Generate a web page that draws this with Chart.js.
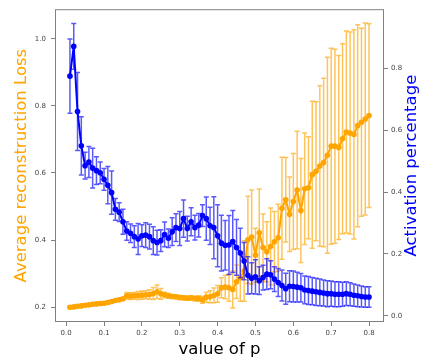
<!DOCTYPE html>
<html>
<head>
<meta charset="utf-8">
<script src="https://cdn.jsdelivr.net/npm/chart.js@4"></script>
<style>
  body { margin: 0; background: #fff; }
  canvas { display: block; }
</style>
</head>
<body>
<canvas id="grafico" width="422" height="358"></canvas>
<script>
// valores de p (eixo x)
const pValues = [
  0.01, 0.02, 0.03, 0.04, 0.05, 0.06, 0.07, 0.08, 0.09, 0.10,
  0.11, 0.12, 0.13, 0.14, 0.15, 0.16, 0.17, 0.18, 0.19, 0.20,
  0.21, 0.22, 0.23, 0.24, 0.25, 0.26, 0.27, 0.28, 0.29, 0.30,
  0.31, 0.32, 0.33, 0.34, 0.35, 0.36, 0.37, 0.38, 0.39, 0.40,
  0.41, 0.42, 0.43, 0.44, 0.45, 0.46, 0.47, 0.48, 0.49, 0.50,
  0.51, 0.52, 0.53, 0.54, 0.55, 0.56, 0.57, 0.58, 0.59, 0.60,
  0.61, 0.62, 0.63, 0.64, 0.65, 0.66, 0.67, 0.68, 0.69, 0.70,
  0.71, 0.72, 0.73, 0.74, 0.75, 0.76, 0.77, 0.78, 0.79, 0.80
];

// perda média de reconstrução (eixo esquerdo, laranja)
const lossMean = [
  0.200, 0.201, 0.203, 0.204, 0.206, 0.207, 0.209, 0.210, 0.211, 0.212,
  0.214, 0.217, 0.220, 0.222, 0.225, 0.234, 0.233, 0.234, 0.235, 0.236,
  0.237, 0.238, 0.241, 0.246, 0.240, 0.237, 0.234, 0.232, 0.231, 0.229,
  0.228, 0.227, 0.228, 0.226, 0.226, 0.222, 0.230, 0.231, 0.235, 0.240,
  0.258, 0.260, 0.258, 0.253, 0.276, 0.288, 0.308, 0.401, 0.409, 0.355,
  0.422, 0.378, 0.365, 0.381, 0.395, 0.407, 0.495, 0.520, 0.477, 0.515,
  0.549, 0.488, 0.553, 0.556, 0.595, 0.605, 0.621, 0.631, 0.653, 0.680,
  0.680, 0.676, 0.702, 0.722, 0.719, 0.715, 0.741, 0.751, 0.761, 0.771
];
const lossErr = [
  0.004, 0.004, 0.004, 0.004, 0.004, 0.004, 0.004, 0.004, 0.004, 0.004,
  0.004, 0.004, 0.004, 0.004, 0.004, 0.010, 0.010, 0.010, 0.012, 0.012,
  0.012, 0.014, 0.018, 0.020, 0.016, 0.008, 0.007, 0.006, 0.006, 0.006,
  0.006, 0.006, 0.006, 0.007, 0.008, 0.010, 0.015, 0.018, 0.022, 0.025,
  0.030, 0.035, 0.040, 0.055, 0.050, 0.070, 0.090, 0.130, 0.140, 0.080,
  0.130, 0.100, 0.090, 0.115, 0.090, 0.100, 0.152, 0.126, 0.111, 0.143,
  0.175, 0.155, 0.166, 0.152, 0.219, 0.207, 0.239, 0.251, 0.292, 0.292,
  0.289, 0.274, 0.283, 0.301, 0.301, 0.312, 0.301, 0.280, 0.286, 0.274
];

// percentual de ativação (eixo direito, azul)
const actMean = [
  0.774, 0.870, 0.660, 0.549, 0.485, 0.497, 0.477, 0.469, 0.462, 0.441,
  0.422, 0.398, 0.344, 0.335, 0.304, 0.274, 0.267, 0.256, 0.248, 0.259,
  0.261, 0.256, 0.243, 0.237, 0.243, 0.263, 0.251, 0.272, 0.285, 0.282,
  0.314, 0.282, 0.304, 0.285, 0.293, 0.324, 0.314, 0.291, 0.285, 0.259,
  0.235, 0.228, 0.229, 0.240, 0.221, 0.203, 0.177, 0.131, 0.122, 0.126,
  0.114, 0.124, 0.135, 0.133, 0.119, 0.108, 0.098, 0.088, 0.096, 0.095,
  0.093, 0.091, 0.084, 0.082, 0.080, 0.078, 0.076, 0.074, 0.072, 0.072,
  0.070, 0.070, 0.070, 0.072, 0.070, 0.067, 0.065, 0.063, 0.061, 0.061
];
const actErr = [
  0.120, 0.074, 0.126, 0.094, 0.043, 0.050, 0.064, 0.045, 0.035, 0.035,
  0.060, 0.070, 0.035, 0.030, 0.040, 0.030, 0.030, 0.035, 0.050, 0.035,
  0.040, 0.040, 0.045, 0.040, 0.035, 0.040, 0.030, 0.045, 0.045, 0.055,
  0.060, 0.040, 0.045, 0.040, 0.038, 0.035, 0.070, 0.060, 0.100, 0.100,
  0.090, 0.080, 0.095, 0.100, 0.090, 0.080, 0.060, 0.060, 0.050, 0.055,
  0.045, 0.040, 0.050, 0.045, 0.040, 0.045, 0.050, 0.050, 0.050, 0.050,
  0.048, 0.046, 0.045, 0.045, 0.044, 0.044, 0.043, 0.042, 0.042, 0.041,
  0.040, 0.040, 0.039, 0.038, 0.037, 0.036, 0.035, 0.034, 0.033, 0.033
];

// ticks dos eixos
const xTicks = [0.0, 0.1, 0.2, 0.3, 0.4, 0.5, 0.6, 0.7, 0.8];
const lossTicks = [0.2, 0.4, 0.6, 0.8, 1.0];
const actTicks = [0.0, 0.2, 0.4, 0.6, 0.8];

const ORANGE = '#ffa500';
const BLUE = '#0000ff';
const AXIS_COLOR = '#808080';
const TICK_FONT = { family: 'DejaVu Sans', size: 7 };
const TITLE_FONT = '16.5px "DejaVu Sans"';

// desenha as barras de erro antes da linha de cada dataset
const errorBarPlugin = {
  id: 'errorBars',
  beforeDatasetDraw(chart, args) {
    const ds = chart.data.datasets[args.index];
    if (!ds.errors) return;
    const ctx = chart.ctx;
    const xs = chart.scales.x;
    const ys = chart.scales[ds.yAxisID];
    ctx.save();
    ctx.strokeStyle = ds.errorColor;
    ctx.lineWidth = 1.5;
    ds.data.forEach((pt, i) => {
      const x = xs.getPixelForValue(pt.x);
      const yTop = ys.getPixelForValue(pt.y + ds.errors[i]);
      const yBot = ys.getPixelForValue(pt.y - ds.errors[i]);
      ctx.beginPath();
      ctx.moveTo(x, yTop); ctx.lineTo(x, yBot);
      ctx.moveTo(x - 2.5, yTop); ctx.lineTo(x + 2.5, yTop);
      ctx.moveTo(x - 2.5, yBot); ctx.lineTo(x + 2.5, yBot);
      ctx.stroke();
    });
    ctx.restore();
  }
};

// moldura completa + títulos dos eixos
const framePlugin = {
  id: 'frame',
  afterDraw(chart) {
    const { ctx, chartArea: a } = chart;
    ctx.save();
    ctx.strokeStyle = AXIS_COLOR;
    ctx.lineWidth = 1;
    ctx.strokeRect(a.left + 0.5, a.top + 0.5, a.right - a.left - 1, a.bottom - a.top - 1);

    ctx.font = TITLE_FONT;
    ctx.textAlign = 'center';
    ctx.textBaseline = 'alphabetic';
    const midY = (a.top + a.bottom) / 2;

    ctx.fillStyle = '#000';
    ctx.fillText('value of p', (a.left + a.right) / 2, 354);

    ctx.save();
    ctx.translate(26, midY);
    ctx.rotate(-Math.PI / 2);
    ctx.fillStyle = ORANGE;
    ctx.fillText('Average reconstruction Loss', 0, 0);
    ctx.restore();

    ctx.save();
    ctx.translate(416, midY);
    ctx.rotate(-Math.PI / 2);
    ctx.fillStyle = BLUE;
    ctx.fillText('Activation percentage', 0, 0);
    ctx.restore();

    ctx.restore();
  }
};

function axisBase(ticksList, padding) {
  return {
    afterBuildTicks: scale => { scale.ticks = ticksList.map(v => ({ value: v })); },
    grid: { drawOnChartArea: false, drawTicks: true, tickLength: 4, tickColor: AXIS_COLOR },
    border: { display: false },
    ticks: {
      font: TICK_FONT,
      color: '#444',
      padding: padding,
      autoSkip: false,
      maxRotation: 0,
      callback: v => Number(v).toFixed(1)
    }
  };
}

const lossData = pValues.map((p, i) => ({ x: p, y: lossMean[i] }));
const actData = pValues.map((p, i) => ({ x: p, y: actMean[i] }));

new Chart(document.getElementById('grafico'), {
  type: 'line',
  data: {
    datasets: [
      {
        label: 'Activation percentage',
        data: actData,
        errors: actErr,
        errorColor: 'rgba(0, 0, 255, 0.65)',
        yAxisID: 'yAct',
        borderColor: BLUE,
        backgroundColor: BLUE,
        borderWidth: 2,
        pointRadius: 2.8,
        pointBorderWidth: 0,
        tension: 0,
        order: 0
      },
      {
        label: 'Average reconstruction Loss',
        data: lossData,
        errors: lossErr,
        errorColor: 'rgba(255, 165, 0, 0.65)',
        yAxisID: 'yLoss',
        borderColor: ORANGE,
        backgroundColor: ORANGE,
        borderWidth: 2,
        pointRadius: 2.8,
        pointBorderWidth: 0,
        tension: 0,
        order: 1
      }
    ]
  },
  options: {
    responsive: false,
    devicePixelRatio: 1,
    animation: false,
    layout: { padding: { top: 3, left: 0, right: 0, bottom: 0 } },
    plugins: { legend: { display: false }, tooltip: { enabled: false } },
    scales: {
      x: Object.assign(axisBase(xTicks, 3), {
        type: 'linear',
        position: 'bottom',
        min: -0.0295,
        max: 0.8395,
        afterFit: s => { s.height = 36; }
      }),
      yLoss: Object.assign(axisBase(lossTicks, 5), {
        type: 'linear',
        position: 'left',
        min: 0.156,
        max: 1.088,
        afterFit: s => { s.width = 55; }
      }),
      yAct: Object.assign(axisBase(actTicks, 3), {
        type: 'linear',
        position: 'right',
        min: -0.0195,
        max: 0.99,
        afterFit: s => { s.width = 38; }
      })
    }
  },
  plugins: [errorBarPlugin, framePlugin]
});
</script>
</body>
</html>
